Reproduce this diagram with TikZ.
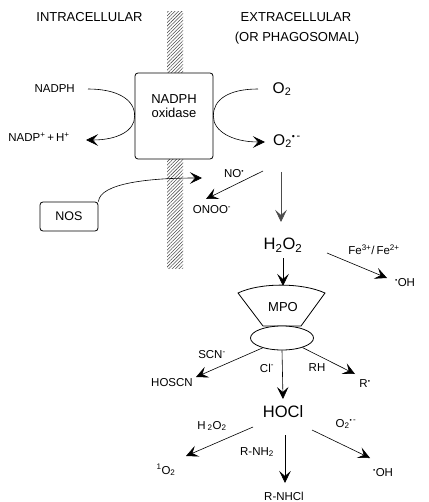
\documentclass[tikz,border=0pt]{standalone}
\usepackage{fontspec}
\setmainfont{Liberation Sans}
\usetikzlibrary{arrows.meta,patterns.meta,shapes.geometric}
\newcommand{\rdot}{\textsuperscript{\scalebox{0.8}{•}}}
\newcommand{\supox}{O\textsubscript{2}\textsuperscript{\scalebox{0.8}{•}\,-}}
\tikzset{
  lbl/.style={inner sep=0pt,font=\fontsize{11.5}{13}\selectfont},
  big/.style={inner sep=0pt,font=\fontsize{16.5}{18}\selectfont},
  mid/.style={inner sep=0pt,font=\fontsize{15.5}{17}\selectfont},
  head/.style={inner sep=0pt,font=\fontsize{13}{15}\selectfont},
  rxn/.style={line width=0.6pt,-{Stealth[length=12pt,width=11.5pt,inset=5pt]}},
  boxr/.style={draw,line width=0.8pt,rounded corners=3pt,fill=white},
}
\begin{document}
\begin{tikzpicture}[x=1pt,y=-1pt]
\useasboundingbox (0,0) rectangle (428,502);
% membrane
\path[pattern={Lines[angle=45,distance=2.4pt,line width=0.55pt]},pattern color=black!70] (167,12) rectangle (183,268);
% titles
\node[head] (intra) at (89.5,17) {INTRACELLULAR};
\node[head] (extra) at (296,17) {EXTRACELLULAR};
\node[head] (phago) at (297,38) {(OR PHAGOSOMAL)};
% NADPH oxidase
\node[boxr,minimum width=78pt,minimum height=86pt] (nox) at (174,116) {};
\node[head,align=center] (noxt) at (174,106) {NADPH\\[-1pt]oxidase};
\node[lbl,anchor=east] (nadph) at (75,89) {NADPH};
\node[lbl] (nadp) at (39,137) {NADP\textsuperscript{+}\,+\,H\textsuperscript{+}};
\node[mid] (o2) at (282,89) {O\textsubscript{2}};
\node[mid] (sup) at (287,141) {\supox};
\coordinate (a1) at (88,89);
\coordinate (a2) at (86,140);
\draw[rxn] (a1) .. controls (118,89) and (135,100) .. (nox.west) .. controls (135,131) and (117,140) .. (a2);
\coordinate (b1) at (258,89);
\coordinate (b2) at (265,142);
\draw[rxn] (b1) .. controls (228,89) and (213,100) .. (nox.east) .. controls (213,131) and (232,142) .. (b2);
% NOS
\node[boxr,minimum width=58pt,minimum height=29pt,font=\fontsize{12.5}{14}\selectfont] (nos) at (69,216.5) {NOS};
\coordinate (c2) at (202,178);
\draw[rxn] (nos.north east) .. controls (100,183) and (150,178) .. (c2);
\node[lbl] (no) at (234,174) {NO\rdot};
\node[lbl] (onoo) at (212,210) {ONOO\textsuperscript{-}};
\coordinate (d1) at (263,171);
\coordinate (d2) at (206,199);
\draw[rxn] (d1) -- (d2);
\coordinate (e1) at (281,172);
\coordinate (e2) at (281,222);
\draw[rxn,black!70] (e1) -- (e2);
% H2O2
\node[big] (h2o2) at (283,245) {H\textsubscript{2}O\textsubscript{2}};
\node[lbl] (fe) at (374,250) {Fe\textsuperscript{3+}/\,Fe\textsuperscript{2+}};
\node[lbl] (oh1) at (405,283) {\rdot OH};
\coordinate (f1) at (327,253);
\coordinate (f2) at (387,278);
\draw[rxn] (f1) -- (f2);
\coordinate (g1) at (283,258);
\coordinate (g2) at (283,286);
\draw[rxn] (g1) -- (g2);
% MPO
\draw[line width=0.8pt,fill=white] (238,293) .. controls (260,282.5) and (302,282.5) .. (325,293) -- (301,326) -- (263,326) -- cycle;
\node[head] (mpo) at (283,307) {MPO};
\node[draw,line width=0.8pt,fill=white,ellipse,minimum width=63pt,minimum height=24pt,inner sep=0pt] (ell) at (282,338) {};
\node[lbl] (scn) at (212,355) {SCN\textsuperscript{-}};
\node[lbl] (hoscn) at (172,383) {HOSCN};
\node[lbl] (cl) at (267,368) {Cl\textsuperscript{-}};
\node[lbl] (rh) at (317,368) {RH};
\node[lbl] (r) at (365,384) {R\rdot};
\coordinate (h2) at (196,377);
\draw[rxn] (ell.207) -- (h2);
\coordinate (i2) at (283,399);
\draw[rxn] (ell.south) -- (i2);
\coordinate (j2) at (355,374);
\draw[rxn] (ell.335) -- (j2);
% HOCl
\node[big] (hocl) at (283,412) {HOCl};
\node[lbl] (h2o2b) at (212,426) {H\,\textsubscript{2}O\textsubscript{2}};
\node[lbl] (so2) at (166,470) {\textsuperscript{1}O\textsubscript{2}};
\node[lbl] (rnh2) at (257,452) {R-NH\textsubscript{2}};
\node[lbl] (sup2) at (346,424) {\supox};
\node[lbl] (oh2) at (383,473) {\rdot OH};
\node[lbl] (rnhcl) at (284,496) {R-NHCl};
\coordinate (k1) at (253,427);
\coordinate (k2) at (186,456);
\draw[rxn] (k1) -- (k2);
\coordinate (l1) at (285,435);
\coordinate (l2) at (285,483);
\draw[rxn] (l1) -- (l2);
\coordinate (m1) at (312,430);
\coordinate (m2) at (370,458);
\draw[rxn] (m1) -- (m2);
\end{tikzpicture}
\end{document}
